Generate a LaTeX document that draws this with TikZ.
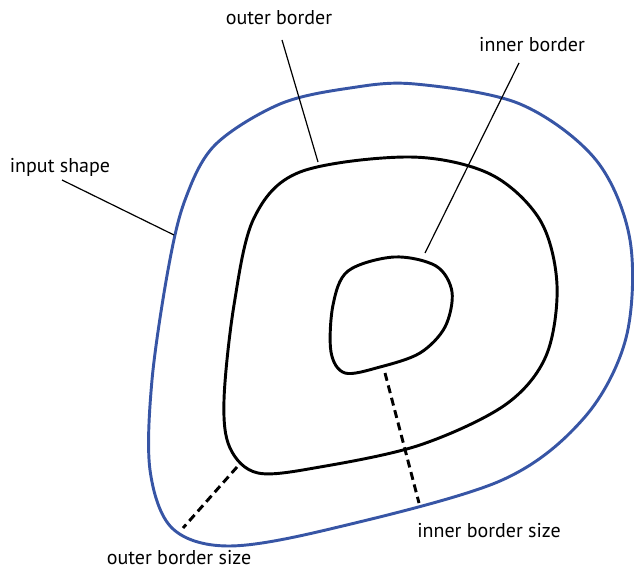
\documentclass[tikz,border=0pt]{standalone}
\usepackage{fontspec}
\setmainfont{PT Sans}
\usetikzlibrary{positioning,calc}
\definecolor{shapeblue}{RGB}{55,85,165}

\begin{document}
\begin{tikzpicture}[
    x=0.75pt, y=-0.75pt,
    lbl/.style={inner sep=0pt, font=\fontsize{15}{18}\selectfont},
    contour/.style={line width=2.2pt, smooth cycle, tension=0.55},
    leader/.style={line width=0.9pt},
    gap/.style={line width=2.2pt, dash pattern=on 6pt off 3.6pt}
]
    \useasboundingbox (0,0) rectangle (634,570);

    % Input shape
    \draw[shapeblue, contour] plot coordinates {
        (415,84) (520,104) (596,160) (630,240) (626,338) (584,418)
        (500,481) (330,529) (228,546) (172,528) (150,470) (152,380)
        (168,270) (185,200) (215,145) (280,104) (350,88)};

    % Outer border
    \draw[contour] plot coordinates {
        (410,157) (490,174) (540,220) (557,285) (546,356) (505,405)
        (420,445) (320,467) (258,473) (230,448) (224,400) (234,305)
        (254,218) (300,172)};

    % Inner border
    \draw[contour] plot coordinates {
        (394,257) (436,266) (452,292) (445,327) (420,353)
        (380,367) (345,373) (331,352) (333,305) (348,271)};

    % Anchor points on the curves
    \coordinate (in_pt) at (174,235);
    \coordinate (ob_pt) at (318,162);
    \coordinate (ib_pt) at (425,253);
    \coordinate (ob_a) at (237,467);
    \coordinate (ob_b) at (183,528);
    \coordinate (ib_a) at (385,373);
    \coordinate (ib_b) at (419,503);

    % Labels
    \node[lbl] (input) at (60,167) {input shape};
    \node[lbl] (outer) at (279,18) {outer border};
    \node[lbl] (inner) at (532,45) {inner border};
    \node[lbl] (osize) at (179,558) {outer border size};
    \node[lbl] (isize) at (489,531) {inner border size};

    % Leaders
    \draw[leader] ($(input)+(2,13)$) -- (in_pt);
    \draw[leader] ($(outer)+(3,22)$) -- (ob_pt);
    \draw[leader] ($(inner)+(-13,18)$) -- (ib_pt);

    % Sizes
    \draw[gap] (ob_a) -- (ob_b);
    \draw[gap] (ib_a) -- (ib_b);
\end{tikzpicture}
\end{document}
